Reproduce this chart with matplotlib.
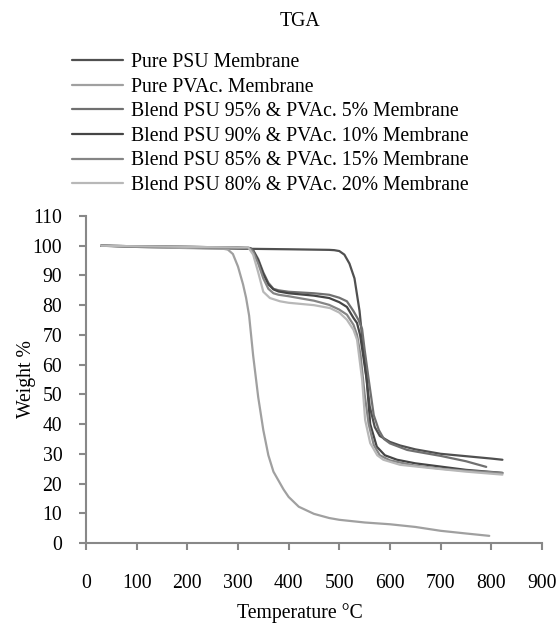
import numpy as np
import matplotlib.pyplot as plt

plt.rcParams['font.family'] = ['Liberation Serif', 'DejaVu Serif']

# TGA curves (temperature in C, weight %)
t_psu = [30, 100, 200, 300, 400, 480, 490, 500, 510, 520, 530, 540, 550, 560, 570, 580, 600, 620, 650, 700, 750, 800, 822]
w_psu = [100, 99.6, 99.3, 99.0, 98.8, 98.6, 98.5, 98.2, 97.0, 94.0, 89.0, 78, 61, 46, 39, 36, 34, 32.8, 31.5, 30.0, 29.2, 28.4, 28.0]

t_pvac = [30, 100, 200, 270, 280, 290, 300, 310, 316, 322, 330, 340, 350, 360, 370, 380, 390, 400, 420, 450, 480, 500, 550, 600, 650, 700, 750, 796]
w_pvac = [100, 99.6, 99.2, 99.0, 98.7, 97.2, 93, 87, 82.5, 76.5, 63, 49, 38, 29.5, 24, 21, 18, 15.5, 12.2, 9.8, 8.4, 7.8, 6.9, 6.3, 5.4, 4.1, 3.2, 2.4]

t_b95 = [30, 100, 200, 300, 324, 330, 340, 350, 360, 370, 380, 400, 450, 480, 500, 515, 528, 538, 545, 550, 558, 568, 578, 588, 600, 634, 650, 700, 750, 790]
w_b95 = [100, 99.8, 99.6, 99.4, 99.2, 98.5, 95.5, 91, 87.5, 85.5, 85, 84.5, 84, 83.5, 82.5, 81.3, 78, 75, 72, 65, 55, 43, 38, 35, 33.5, 31.3, 30.8, 29.3, 27.5, 25.6]

t_b90 = [30, 100, 200, 300, 324, 330, 340, 350, 360, 370, 380, 400, 450, 480, 500, 515, 528, 535, 541, 548, 554, 561, 574, 590, 614, 650, 700, 750, 800, 822]
w_b90 = [100, 99.8, 99.6, 99.4, 99.2, 98.3, 95, 90.5, 87, 85.3, 84.6, 84, 83.2, 82.4, 81, 79.4, 75.7, 74, 70, 62, 55, 40, 32.4, 29.5, 28, 26.8, 25.7, 24.6, 23.9, 23.6]

t_b85 = [30, 100, 200, 300, 324, 330, 340, 350, 360, 370, 380, 400, 450, 480, 500, 515, 528, 535, 542, 550, 558, 568, 580, 600, 650, 700, 750, 800, 822]
w_b85 = [100, 99.8, 99.6, 99.4, 99.1, 98, 94, 89, 85.5, 84, 83.5, 83, 81.5, 80.1, 78.5, 76.8, 73.4, 70, 63, 50, 40, 33, 29.5, 27.8, 26, 25, 24.3, 23.8, 23.5]

t_b80 = [30, 100, 200, 300, 320, 330, 340, 350, 363, 383, 400, 450, 482, 500, 515, 528, 535, 545, 551, 561, 575, 587, 620, 680, 750, 800, 822]
w_b80 = [100, 99.8, 99.6, 99.4, 99.5, 97, 91, 84.5, 82.4, 81.3, 80.8, 80, 79, 77.5, 75.1, 71.7, 68.4, 55, 41.4, 33.6, 29.5, 28, 26.3, 25.2, 24, 23.3, 23.0]

series = [
    (t_psu, w_psu, "Pure PSU Membrane", "#505050"),
    (t_pvac, w_pvac, "Pure PVAc. Membrane", "#a0a0a0"),
    (t_b95, w_b95, "Blend PSU 95% & PVAc. 5% Membrane", "#707070"),
    (t_b90, w_b90, "Blend PSU 90% & PVAc. 10% Membrane", "#454545"),
    (t_b85, w_b85, "Blend PSU 85% & PVAc. 15% Membrane", "#858585"),
    (t_b80, w_b80, "Blend PSU 80% & PVAc. 20% Membrane", "#b8b8b8"),
]

fig = plt.figure(figsize=(5.59, 6.26), dpi=100)
ax = fig.add_axes([0.1538, 0.1326, 0.8157, 0.5224])

for t, w, lab, col in series:
    ax.plot(t, w, color=col, lw=1.6, label=lab, solid_capstyle='round')

ax.set_xlim(0, 900)
ax.set_ylim(0, 110)
ax.set_xticks(np.arange(0, 901, 100))
ax.set_yticks(np.arange(0, 111, 10))

for s in ['top', 'right']:
    ax.spines[s].set_visible(False)
for s in ['left', 'bottom']:
    ax.spines[s].set_color('#888888')
    ax.spines[s].set_linewidth(1.5)
ax.tick_params(axis='both', direction='out', length=5, width=1.5, color='#888888', labelsize=14.2)
ax.tick_params(axis='x', pad=17)
ax.tick_params(axis='y', pad=12)

ax.set_xlabel("Temperature °C", fontsize=14.2)
ax.xaxis.set_label_coords(0.47, -0.185)
ax.set_ylabel("Weight %", fontsize=14.2)
ax.yaxis.set_label_coords(-0.11, 0.5)

fig.text(0.537, 0.965, "TGA", ha='center', va='center', fontsize=14.2)

fig.legend(loc='upper left', bbox_to_anchor=(0.115, 0.928), frameon=False,
           fontsize=14.2, handlelength=2.6, handletextpad=0.4, labelspacing=0.285,
           borderaxespad=0)

plt.savefig("out.png", dpi=100)
